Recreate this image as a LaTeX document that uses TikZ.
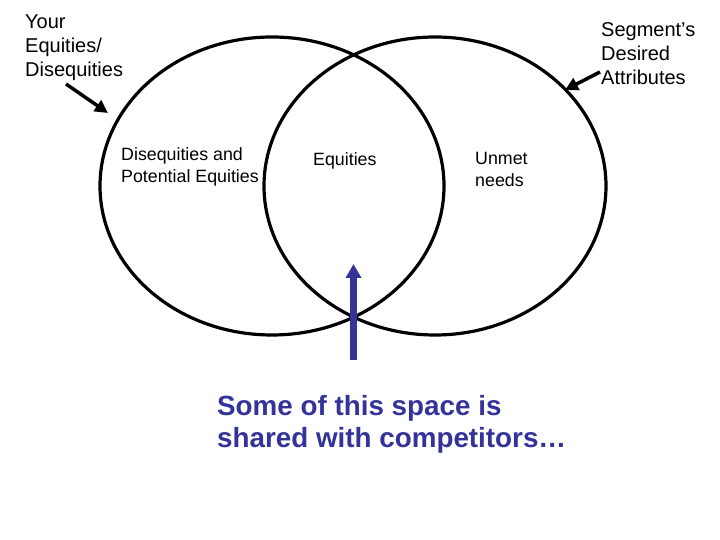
\documentclass[tikz,border=0pt]{standalone}
\usepackage{fontspec}
\setmainfont{Liberation Sans}
\usetikzlibrary{arrows.meta}
\definecolor{navy}{RGB}{51,51,153}
\begin{document}
\begin{tikzpicture}[x=1pt,y=1pt,
  ring/.style={draw=black,line width=3.2pt},
  pointer/.style={draw=black,line width=3.5pt,-{Triangle[length=13pt,width=13pt]}},
  uparrow/.style={draw=navy,line width=6.5pt,-{Triangle[length=14pt,width=15pt]}},
  lbl/.style={inner sep=0pt,anchor=north west,align=left},
  biglbl/.style={lbl,font=\fontsize{20}{24}\selectfont},
  midlbl/.style={lbl,font=\fontsize{17.8}{22}\selectfont},
  bluelbl/.style={lbl,text=navy,font=\fontsize{27.8}{32.5}\selectfont\bfseries},
 ]
\useasboundingbox (0,0) rectangle (720,540);
\draw[ring] (272,354) ellipse [x radius=172, y radius=149];
\draw[ring] (435,354) ellipse [x radius=171, y radius=149];

\node[biglbl] (your) at (25,525) {Your\\Equities/\\Disequities};
\node[biglbl] (seg) at (601,518) {Segment’s\\Desired\\Attributes};
\node[midlbl] (diseq) at (121,393) {Disequities and\\Potential Equities};
\node[midlbl] (eq) at (313,388) {Equities};
\node[midlbl] (unmet) at (475,388) {Unmet\\needs};
\node[bluelbl] (shared) at (217,145) {Some of this space is\\shared with competitors…};

\coordinate (lstart) at (66,456);
\coordinate (ltip) at (108,427);
\coordinate (rstart) at (600,468);
\coordinate (rtip) at (565,450);
\coordinate (bstart) at (353.5,180);
\coordinate (btip) at (353.5,276);

\draw[pointer] (lstart) -- (ltip);
\draw[pointer] (rstart) -- (rtip);
\draw[uparrow] (bstart) -- (btip);
\end{tikzpicture}
\end{document}
